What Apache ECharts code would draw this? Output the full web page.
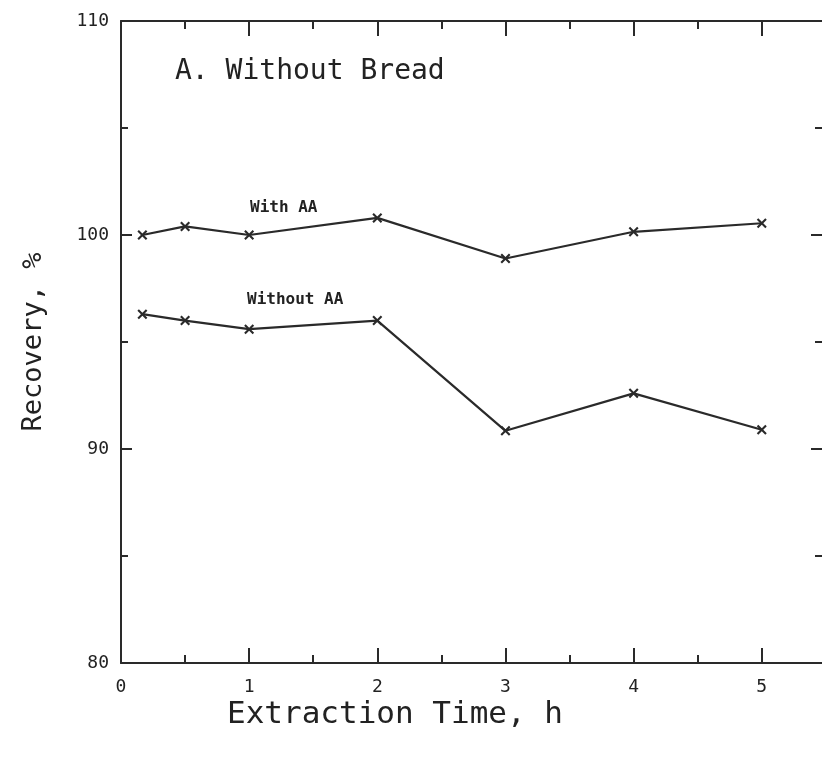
<!DOCTYPE html>
<html><head><meta charset="utf-8">
<script src="https://cdn.jsdelivr.net/npm/echarts@6/dist/echarts.min.js"></script>
<style>html,body{margin:0;padding:0;background:#fff}#c{width:822px;height:758px}</style>
</head><body><div id="c"></div>
<script>
const times = [0.167, 0.5, 1, 2, 3, 4, 5];
const withAA = [100.0, 100.4, 100.0, 100.8, 98.9, 100.15, 100.55];
const withoutAA = [96.3, 96.0, 95.6, 96.0, 90.85, 92.6, 90.9];
const xTicks = [0, 1, 2, 3, 4, 5];
const yTicks = [80, 90, 100, 110];

const FONT = '"DejaVu Sans Mono", monospace';
const INK = '#2a2a2a';
const cross = 'path://M0,1.5L1.5,0L5,3.5L8.5,0L10,1.5L6.5,5L10,8.5L8.5,10L5,6.5L1.5,10L0,8.5L3.5,5Z';

const chart = echarts.init(document.getElementById('c'));
const pair = a => times.map((t, i) => [t, a[i]]);
const xAx = (pos, show) => ({
  type: 'value', position: pos, min: 0, max: 5.47, interval: 1,
  axisLine: {show: true, onZero: false, lineStyle: {color: INK, width: 2}},
  axisTick: {show: true, inside: true, length: 15, customValues: xTicks, lineStyle: {color: INK, width: 2}},
  minorTick: {show: true, splitNumber: 2, length: 8, lineStyle: {color: INK, width: 2}},
  splitLine: {show: false},
  axisLabel: {show: show, margin: 15, color: '#222', fontFamily: FONT, fontSize: 18,
    showMaxLabel: false,
    formatter: v => xTicks.includes(v) ? String(v) : ''}
});
const yAx = (pos, show) => ({
  type: 'value', position: pos, min: 80, max: 110, interval: 10,
  axisLine: {show: true, onZero: false, lineStyle: {color: INK, width: 2, opacity: show ? 1 : 0}},
  axisTick: {show: true, inside: true, length: 11, lineStyle: {color: INK, width: 2}},
  minorTick: {show: true, splitNumber: 2, length: 7, lineStyle: {color: INK, width: 2}},
  splitLine: {show: false},
  axisLabel: {show: show, margin: 12, color: '#222', fontFamily: FONT, fontSize: 18,
    formatter: v => yTicks.includes(v) ? String(v) : ''}
});
const yLeft = yAx('left', true);
yLeft.name = 'Recovery, %';
yLeft.nameLocation = 'middle';
yLeft.nameGap = 74;
yLeft.nameTextStyle = {fontFamily: FONT, fontSize: 27, color: '#222'};

chart.setOption({
  animation: false,
  backgroundColor: '#fff',
  grid: {left: 121, right: 0, top: 21, bottom: 95},
  xAxis: [xAx('bottom', true), xAx('top', false)],
  yAxis: [yLeft, yAx('right', false)],
  series: [
    {type: 'line', data: pair(withAA), symbol: cross, symbolSize: 10,
     lineStyle: {color: INK, width: 2.2}, itemStyle: {color: INK}},
    {type: 'line', data: pair(withoutAA), symbol: cross, symbolSize: 10,
     lineStyle: {color: INK, width: 2.2}, itemStyle: {color: INK}}
  ],
  graphic: [
    {type: 'text', left: 175, top: 58, style: {text: 'A. Without Bread', font: '28px ' + FONT, fill: '#222'}},
    {type: 'text', left: 250, top: 200, style: {text: 'With AA', font: 'bold 16px ' + FONT, fill: '#222'}},
    {type: 'text', left: 247, top: 292, style: {text: 'Without AA', font: 'bold 16px ' + FONT, fill: '#222'}},
    {type: 'text', left: 227, top: 699, style: {text: 'Extraction Time, h', font: '31px ' + FONT, fill: '#222'}}
  ]
});
</script></body></html>
